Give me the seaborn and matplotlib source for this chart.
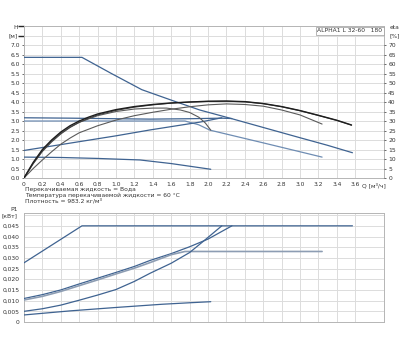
import numpy as np
import pandas as pd
import matplotlib
matplotlib.use("Agg")
import matplotlib.pyplot as plt
import seaborn as sns

sns.set_theme(style="white")
plt.rcParams['font.family'] = ['DejaVu Sans']

# ---------------- data ----------------
# Head curves H [m] vs Q [m3/h]
q_max = [0, 0.63, 0.95, 1.28, 1.6, 1.91, 2.26, 2.6, 3.0, 3.3, 3.57]
h_max = [6.35, 6.35, 5.5, 4.65, 4.1, 3.58, 3.12, 2.66, 2.12, 1.72, 1.33]

q_cp_hi = [0, 0.5, 1.0, 1.37, 1.8, 2.15, 2.26]
h_cp_hi = [3.17, 3.15, 3.12, 3.1, 3.12, 3.15, 3.13]

q_cp_lo = [0, 1.0, 1.5, 1.75, 1.9, 2.02, 2.6, 3.24]
h_cp_lo = [3.0, 3.0, 3.0, 3.0, 2.8, 2.52, 1.85, 1.1]

q_pp = [0, 1.0, 1.37, 1.91, 2.15]
h_pp = [1.45, 2.22, 2.53, 2.94, 3.17]

q_sp1 = [0, 0.4, 0.8, 1.26, 1.6, 2.03]
h_sp1 = [1.1, 1.08, 1.03, 0.95, 0.76, 0.46]

# Efficiency curves eta [%]
q_eta_a = [0, 0.1, 0.2, 0.3, 0.4, 0.5, 0.6, 0.7, 0.8, 1.0, 1.2, 1.4, 1.6, 1.8,
           2.0, 2.2, 2.4, 2.6, 2.8, 3.0, 3.2, 3.4, 3.56]
eta_a = [0, 8.2, 15.0, 20.0, 24.2, 27.5, 30.0, 32.0, 33.7, 36.0, 37.6, 38.7,
         39.5, 40.0, 40.4, 40.5, 40.2, 39.2, 37.6, 35.5, 33.0, 30.4, 27.9]
q_eta_b = [0, 0.1, 0.2, 0.3, 0.4, 0.5, 0.6, 0.7, 0.8, 1.0, 1.2, 1.4, 1.6, 1.8,
           2.0, 2.2, 2.4, 2.6, 2.8, 3.0, 3.2, 3.4, 3.56]
eta_b = [0, 7.5, 14.0, 19.0, 23.2, 26.6, 29.3, 31.4, 33.2, 35.6, 37.3, 38.5,
         39.4, 40.0, 40.3, 40.4, 40.1, 39.1, 37.5, 35.4, 32.9, 30.3, 27.8]
q_eta_c = [0, 0.1, 0.2, 0.3, 0.4, 0.5, 0.6, 0.8, 1.0, 1.2, 1.4, 1.55, 1.7,
           1.8, 1.9, 1.97, 2.03]
eta_c = [0, 7.8, 14.5, 19.5, 23.6, 26.8, 29.3, 32.8, 35.0, 36.3, 36.8, 36.8,
         35.8, 34.5, 32.0, 29.0, 25.2]
q_eta_d = [0, 0.1, 0.2, 0.3, 0.4, 0.5, 0.6, 0.8, 1.0, 1.2, 1.4, 1.6, 1.8,
           2.0, 2.2, 2.4, 2.6, 2.8, 3.0, 3.24]
eta_d = [0, 5.0, 9.5, 13.8, 17.8, 21.0, 23.8, 27.5, 30.5, 32.8, 34.6, 36.2,
         37.5, 38.5, 39.0, 38.7, 37.8, 35.8, 33.2, 28.4]

# Power curves P1 [kW]
q_p_max = [0, 0.63, 3.57]
p_max = [0.0277, 0.045, 0.045]

q_p_cp_hi = [0, 0.2, 0.4, 0.6, 0.8, 1.0, 1.2, 1.37, 1.6, 1.8, 2.0, 2.26]
p_cp_hi = [0.011, 0.0128, 0.015, 0.0178, 0.0205, 0.0232, 0.026, 0.0288,
           0.032, 0.0352, 0.0388, 0.045]

q_p_cp_lo = [0, 0.2, 0.4, 0.6, 0.8, 1.0, 1.2, 1.37, 1.6, 1.75, 3.24]
p_cp_lo = [0.0103, 0.012, 0.0143, 0.017, 0.0197, 0.0225, 0.0252, 0.0278,
           0.0315, 0.033, 0.033]

q_p_pp = [0, 0.2, 0.4, 0.6, 0.8, 1.0, 1.2, 1.37, 1.6, 1.8, 1.97, 2.15]
p_pp = [0.005, 0.0062, 0.0079, 0.0102, 0.0126, 0.0152, 0.019, 0.0228,
        0.0275, 0.0325, 0.0385, 0.045]

q_p_sp1 = [0, 0.5, 1.0, 1.5, 1.8, 2.03]
p_sp1 = [0.0033, 0.0052, 0.0068, 0.0083, 0.009, 0.0095]

x_ticks = [0, 0.2, 0.4, 0.6, 0.8, 1.0, 1.2, 1.4, 1.6, 1.8, 2.0, 2.2, 2.4, 2.6,
           2.8, 3.0, 3.2, 3.4, 3.6]
x_tick_labels = ["0", "0.2", "0.4", "0.6", "0.8", "1.0", "1.2", "1.4", "1.6",
                 "1.8", "2.0", "2.2", "2.4", "2.6", "2.8", "3.0", "3.2", "3.4",
                 "3.6"]
h_ticks = [0, 0.5, 1.0, 1.5, 2.0, 2.5, 3.0, 3.5, 4.0, 4.5, 5.0, 5.5, 6.0, 6.5, 7.0]
eta_ticks = [0, 5, 10, 15, 20, 25, 30, 35, 40, 45, 50, 55, 60, 65, 70]
p_ticks = [0, 0.005, 0.01, 0.015, 0.02, 0.025, 0.03, 0.035, 0.04, 0.045]
p_tick_labels = ["0", "0,005", "0,010", "0,015", "0,020", "0,025", "0,030",
                 "0,035", "0,040", "0,045"]

info_lines = ["Перекачиваемая жидкость = Вода",
              "Температура перекачиваемой жидкости = 60 °C",
              "Плотность = 983.2 кг/м³"]

# ---------------- drawing ----------------
BLUE = "#3f6391"
LBLUE = "#6f8db3"
BLACK = "#1e1e1e"
GRAY = "#5a5a5a"
GRID = "#dcdcdc"
FS = 4.3

fig = plt.figure(figsize=(4.0, 3.5), dpi=100)
ax = fig.add_axes([0.06, 0.4914, 0.90, 0.4343])
ax2 = ax.twinx()
axp = fig.add_axes([0.06, 0.08, 0.90, 0.3114])


def draw(axis, q, v, color, lw=0.9, z=3):
    df = pd.DataFrame({"Q": q, "V": v})
    sns.lineplot(data=df, x="Q", y="V", ax=axis, color=color, lw=lw,
                 sort=False, estimator=None, zorder=z)


XMAX = 3.913
for a in (ax, axp):
    a.set_xlim(0, XMAX)
    a.set_xticks(x_ticks)
    a.grid(True, color=GRID, lw=0.7)
    for s in a.spines.values():
        s.set_color("#b5b5b5")
        s.set_linewidth(0.7)
    a.set_xlabel("")
    a.set_ylabel("")

ax.set_ylim(0, 8.0)
ax.set_yticks(h_ticks)
ax.set_yticklabels([f"{t:.1f}" for t in h_ticks])
ax.set_xticklabels(x_tick_labels)
ax.tick_params(axis="both", labelsize=FS, length=1.5, pad=1.5,
               colors="#333333", width=0.5)
ax.set_yticks([7.5, 8.0], minor=True)
ax.grid(True, which="minor", axis="y", color=GRID, lw=0.7)

ax2.set_ylim(0, 80)
ax2.set_yticks(eta_ticks)
ax2.set_yticklabels([str(t) for t in eta_ticks])
ax2.tick_params(axis="y", labelsize=FS, length=1.5, pad=1.5,
                colors="#333333", width=0.5)
ax2.grid(False)
for s in ax2.spines.values():
    s.set_visible(False)
ax2.set_ylabel("")

# head curves
draw(ax, q_max, h_max, BLUE)
draw(ax, q_cp_hi, h_cp_hi, BLUE)
draw(ax, q_cp_lo, h_cp_lo, LBLUE)
draw(ax, q_pp, h_pp, BLUE)
draw(ax, q_sp1, h_sp1, BLUE)
ax.set_xlabel("")
ax.set_ylabel("")

# efficiency curves
draw(ax2, q_eta_d, eta_d, GRAY, lw=0.8, z=4)
draw(ax2, q_eta_c, eta_c, GRAY, lw=0.8, z=4)
draw(ax2, q_eta_b, eta_b, "#444444", lw=0.8, z=4)
draw(ax2, q_eta_a, eta_a, BLACK, lw=1.0, z=5)
ax2.set_xlabel("")
ax2.set_ylabel("")
ax2.set_xlim(0, XMAX)

# axis labels in the tick positions
ax.text(-0.07, 7.9, "H", fontsize=FS, ha="right", va="center", color="#333333")
ax.text(-0.07, 7.5, "[м]", fontsize=FS, ha="right", va="center", color="#333333")
ax2.text(XMAX + 0.06, 79, "eta", fontsize=FS, ha="left", va="center", color="#333333")
ax2.text(XMAX + 0.06, 75, "[%]", fontsize=FS, ha="left", va="center", color="#333333")
ax.text(3.8, -0.22, "Q [м³/ч]", fontsize=FS, ha="center", va="top", color="#333333")
ax.text(0.995, 0.985, "ALPHA1 L 32-60   180", transform=ax.transAxes,
        fontsize=FS, ha="right", va="top", color="#333333",
        bbox=dict(boxstyle="square,pad=0.25", fc="white", ec="#999999", lw=0.5),
        zorder=10)

# info text
for i, line in enumerate(info_lines):
    fig.text(0.0625, 1 - (189.5 + i * 5.6) / 350, line, fontsize=FS,
             ha="left", va="center", color="#333333")

# power curves
draw(axp, q_p_max, p_max, BLUE)
draw(axp, q_p_cp_hi, p_cp_hi, BLUE)
draw(axp, q_p_cp_lo, p_cp_lo, "#8d9db3", lw=1.2)
draw(axp, q_p_pp, p_pp, BLUE)
draw(axp, q_p_sp1, p_sp1, BLUE)
axp.set_ylim(0, 0.051)
axp.set_yticks(p_ticks)
axp.set_yticklabels(p_tick_labels)
axp.set_yticks([0.05], minor=True)
axp.grid(True, which="minor", axis="y", color=GRID, lw=0.7)
axp.set_xticklabels([])
axp.tick_params(axis="both", labelsize=FS, length=1.5, pad=1.5,
                colors="#333333", width=0.5)
axp.tick_params(axis="x", length=0)
axp.set_xlabel("")
axp.set_ylabel("")
axp.text(-0.07, 0.0525, "P1", fontsize=FS, ha="right", va="center", color="#333333")
axp.text(-0.07, 0.0498, "[кВт]", fontsize=FS, ha="right", va="center", color="#333333")

fig.savefig("out.png", dpi=100)
